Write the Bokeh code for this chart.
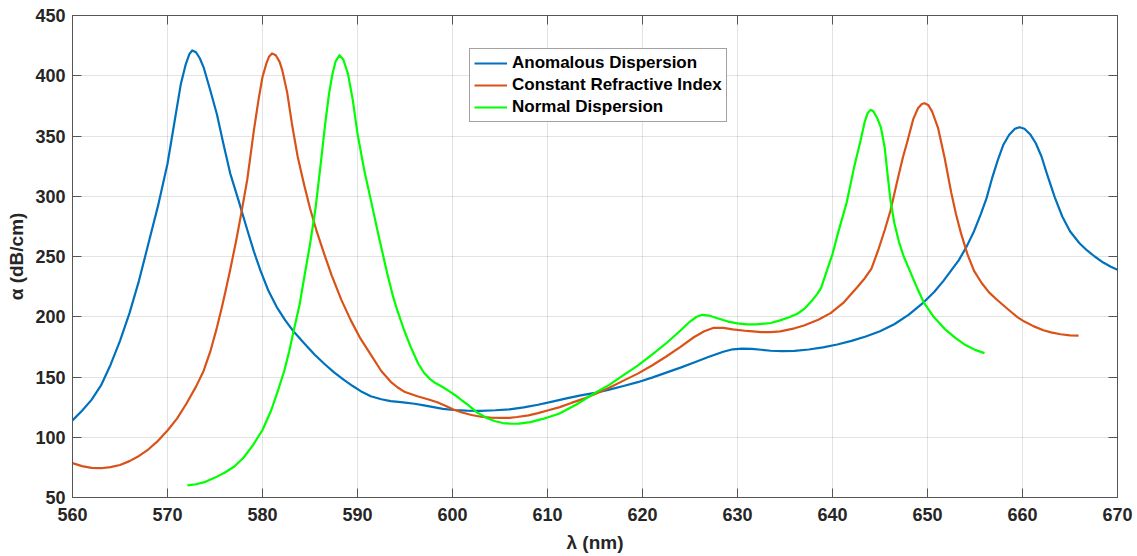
from bokeh.plotting import figure
from bokeh.models import LinearAxis, FixedTicker, Legend, LegendItem, Range1d
from bokeh.embed import file_html
from bokeh.resources import INLINE

# Absorption spectra: wavelength (nm) vs attenuation (dB/cm)
anomalous_x = [560, 561, 562, 563, 564, 565, 566, 567, 568, 569,
               570, 570.7, 571.4, 571.9, 572.3, 572.6, 573.0, 573.4, 573.8, 574.5,
               575.2, 575.9, 576.6, 577.5, 578.4, 579.1, 579.8, 580.6, 581.5, 582.4,
               583.3, 584.5, 585.5, 586.5, 587.5, 588.5, 589.5, 590.5, 591.4, 592.5,
               593.5, 594.8, 596, 597, 598, 599, 600.1, 601.5, 603, 604.5,
               606, 607.5, 609, 610.5, 612, 613.5, 615, 616.5, 618, 619.5,
               621, 622.5, 624, 625.5, 627, 628.5, 629.5, 630.5, 631.5, 632.5,
               633.5, 634.7, 636, 637.5, 639, 640.5, 642, 643.5, 645, 646.5,
               648, 649.6, 650.7, 651.7, 652.5, 653.3, 654.1, 654.9, 655.6, 656.2,
               656.8, 657.4, 658.0, 658.6, 659.2, 659.7, 660.2, 660.8, 661.4, 662.0,
               662.6, 663.4, 664.2, 665.0, 666.0, 666.8, 667.6, 668.5, 669.3, 670]
anomalous_y = [114, 122, 131, 143, 160, 180, 203, 230, 261, 292,
               327, 360, 393, 409, 418, 421, 419.5, 414.5, 407, 388,
               368, 343, 319, 296, 272, 254, 238, 222, 208, 197,
               187.5, 177, 168.5, 161, 154, 148, 142.5, 137.5, 134, 131.5,
               130, 129, 127.8, 126.5, 125, 123.5, 122.6, 122.1, 121.9, 122.4,
               123.2, 124.8, 127, 129.6, 132.3, 134.7, 136.8, 139.5, 142.5, 145.7,
               149.5, 153.6, 157.8, 162.3, 166.8, 171, 173, 173.6, 173.4, 172.6,
               171.8, 171.4, 171.7, 172.8, 174.6, 177, 180, 183.6, 188, 193.8,
               201.5, 212, 220.5, 230, 238.5, 247, 258, 271, 285, 298,
               315, 330, 343, 351, 356, 357.3, 356, 351.5, 344, 333,
               318, 299, 283, 271, 261, 255, 250, 245, 241.5, 239]

constant_x = [560, 561, 562, 563, 564, 565, 566, 567, 568, 569,
              570, 571, 572, 573, 573.8, 574.5, 575.2, 575.7, 576.1, 576.6,
              577.2, 577.7, 578.4, 579.1, 579.6, 580.0, 580.4, 580.7, 581.0, 581.4,
              581.8, 582.1, 582.6, 583.1, 583.7, 584.4, 585.0, 585.7, 586.5, 587.3,
              588.3, 589.3, 590.3, 591.4, 592.5, 593.5, 594.2, 595, 596.3, 597.4,
              598.4, 599.3, 600.1, 601, 602, 603, 604, 605, 606, 606.8,
              608, 609, 610, 611.3, 612.5, 614, 614.9, 616.5, 618, 619.5,
              621, 622.5, 624, 625.4, 626.5, 627.5, 628.5, 629.5, 631, 632.5,
              633.5, 634.5, 636, 637, 638.5, 639.8, 641.2, 642.6, 643.4, 644.1,
              644.8, 645.5, 646.1, 646.8, 647.4, 647.9, 648.5, 649.0, 649.4, 649.7,
              650.1, 650.5, 651.1, 651.8, 652.5, 653.0, 653.5, 654.2, 654.9, 655.7,
              656.5, 657.4, 658.5, 659.5, 660.2, 661.2, 662.2, 663, 664, 665,
              665.9]
constant_y = [78.5, 76, 74.6, 74.3, 75.2, 77, 80.2, 84.5, 90, 97,
              105.6, 115.5, 128, 142, 155, 171, 191, 207, 221, 239,
              262, 283, 314, 355, 381, 399, 410, 416, 418.5, 417,
              411.5, 404, 386, 360, 333, 309, 290, 271, 252, 234,
              214, 197, 182, 168.5, 155, 146, 141.5, 137.5, 134, 131.5,
              129, 126, 123, 120.5, 118.5, 117, 116.3, 116, 116.1, 116.8,
              118.2, 120, 122.2, 125, 128.5, 132.5, 135.5, 141, 147, 152.8,
              159.5, 167, 175, 183, 188, 190.8, 190.7, 189.5, 188.2, 187.2,
              187.3, 187.9, 190.4, 192.7, 197.5, 203, 212, 224.5, 232, 240,
              255, 272, 288, 312, 332, 346, 364, 373, 376.5, 377.2,
              375.5, 370, 357, 332, 303, 285, 270, 252, 238, 228,
              220, 213.5, 206, 199.5, 196, 192, 188.8, 187, 185.5, 184.6,
              184.3]

normal_x = [572.1, 573, 574, 575, 576, 577, 578, 579, 580, 580.9,
            581.6, 582.3, 582.8, 583.3, 583.9, 584.4, 585, 585.6, 586.1, 586.6,
            587.0, 587.35, 587.7, 588.1, 588.5, 589.0, 589.5, 590.0, 590.7, 591.4,
            592.2, 593.1, 593.7, 594.2, 594.9, 595.6, 596.4, 597.0, 597.6, 598.2,
            599.0, 599.6, 600.45, 601.0, 601.6, 602.6, 603.6, 604.5, 605.3, 606.2,
            607.0, 608.2, 609.5, 611.2, 613, 614.9, 616.5, 618, 619.5, 621,
            622.5, 624, 625, 625.7, 626.3, 627, 627.8, 629, 630, 631,
            632, 633.5, 634.5, 635.5, 636.3, 637.1, 637.8, 638.4, 638.8, 639.4,
            640.0, 640.6, 641.5, 642.3, 642.95, 643.4, 643.7, 644.0, 644.3, 644.7,
            645.1, 645.5, 645.8, 646.1, 646.5, 647.0, 647.5, 648.2, 648.9, 649.6,
            650.6, 651.8, 653, 654, 655, 656]
normal_y = [60, 61, 63, 66.5, 70.5, 75.5, 83, 93.5, 106, 122,
            138, 155.4, 171, 189, 210, 233, 260, 291, 325, 360,
            385, 401, 412, 417, 413.5, 401.5, 380, 352, 322, 297,
            268, 237, 218, 205, 189, 175, 161, 153.5, 148.5, 145,
            141.5, 138.5, 134, 130.5, 127, 120.5, 116, 113.3, 111.8, 111.2,
            111.3, 112.6, 115.2, 119.5, 127, 136.3, 143.5, 151.5, 159.5, 168.5,
            178, 188.6, 196, 200, 201.6, 201, 199, 196, 194.5, 193.6,
            193.6, 194.8, 197, 199.8, 202.5, 207, 213, 219, 224, 238,
            252, 270, 295, 325, 346, 362, 369, 371.7, 370.5, 365,
            357, 340, 318, 297, 278, 262, 250, 237, 224, 212,
            200.5, 190, 182, 176.5, 172.5, 169.8]

series_names = ["Anomalous Dispersion", "Constant Refractive Index", "Normal Dispersion"]
series_colors = ["#0072BD", "#D95319", "#00FF00"]

x_ticks = [560, 570, 580, 590, 600, 610, 620, 630, 640, 650, 660, 670]
y_ticks = [50, 100, 150, 200, 250, 300, 350, 400, 450]

FONT = "Liberation Sans"
INK = "#262626"
FRAME = "#555555"

p = figure(width=1137, height=556,
           x_range=Range1d(560, 670), y_range=Range1d(50, 450),
           output_backend="svg", toolbar_location=None,
           min_border_left=72, min_border_right=20,
           min_border_top=15, min_border_bottom=59)
p.background_fill_color = "white"
p.border_fill_color = "white"
p.outline_line_color = FRAME
p.outline_line_width = 1

# grid
p.xgrid.ticker = FixedTicker(ticks=x_ticks)
p.ygrid.ticker = FixedTicker(ticks=y_ticks)
for g in (p.xgrid[0], p.ygrid[0]):
    g.grid_line_color = INK
    g.grid_line_alpha = 0.13
    g.grid_line_width = 1

# mirrored tick marks on the top and right edges of the box
p.add_layout(LinearAxis(), "above")
p.add_layout(LinearAxis(), "right")

for ax in p.xaxis:
    ax.ticker = FixedTicker(ticks=x_ticks)
for ax in p.yaxis:
    ax.ticker = FixedTicker(ticks=y_ticks)

for ax in list(p.xaxis) + list(p.yaxis):
    ax.axis_line_color = FRAME
    ax.axis_line_width = 1
    ax.major_tick_line_color = FRAME
    ax.major_tick_in = 9
    ax.major_tick_out = 0
    ax.minor_tick_line_color = None
    ax.major_label_text_font = FONT
    ax.major_label_text_font_style = "bold"
    ax.major_label_text_color = INK
    ax.major_label_text_font_size = "18px"

for ax in (p.above[0], p.right[0]):
    ax.major_label_text_color = None
    ax.major_label_text_font_size = "1px"
    ax.major_label_standoff = 0

bottom_ax = p.below[0]
left_ax = p.left[0]
bottom_ax.major_label_standoff = 10
left_ax.major_label_standoff = 7

bottom_ax.axis_label = "λ (nm)"
left_ax.axis_label = "α (dB/cm)"
for ax in (bottom_ax, left_ax):
    ax.axis_label_text_font = FONT
    ax.axis_label_text_font_style = "bold"
    ax.axis_label_text_font_size = "19px"
    ax.axis_label_text_color = INK
bottom_ax.axis_label_standoff = 8
left_ax.axis_label_standoff = 5

renderers = []
for xs, ys, color in zip([anomalous_x, constant_x, normal_x],
                         [anomalous_y, constant_y, normal_y],
                         series_colors):
    r = p.line(xs, ys, line_color=color, line_width=2.2, line_join="round")
    renderers.append(r)

legend = Legend(items=[LegendItem(label=n, renderers=[r])
                       for n, r in zip(series_names, renderers)],
                location=(397, 375))
legend.label_text_font = FONT
legend.label_text_font_style = "bold"
legend.label_text_font_size = "17px"
legend.label_text_color = "black"
legend.glyph_width = 33
legend.glyph_height = 18
legend.label_height = 18
legend.label_standoff = 5
legend.spacing = 2
legend.padding = 4
legend.margin = 0
legend.border_line_color = "#444444"
legend.border_line_width = 1
legend.background_fill_color = "white"
legend.background_fill_alpha = 1
p.add_layout(legend, "center")

open("out.html", "w").write(file_html(p, INLINE))
